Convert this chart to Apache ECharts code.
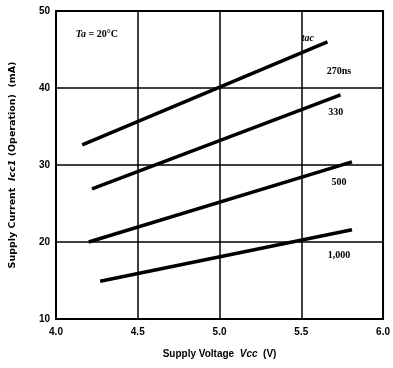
<!DOCTYPE html>
<html>
<head>
<meta charset="utf-8">
<script src="https://cdn.jsdelivr.net/npm/echarts@6/dist/echarts.min.js"></script>
<style>
  html, body { margin: 0; padding: 0; background: #fff; }
  #chart { width: 393px; height: 368px; }
</style>
</head>
<body>
<div id="chart"></div>
<script>
'use strict';

// access time curves, Icc vs Vcc
var seriesNames = ['270ns', '330', '500', '1,000'];
var curve270 = [[4.16, 32.6], [5.66, 46.0]];
var curve330 = [[4.22, 26.9], [5.74, 39.1]];
var curve500 = [[4.20, 20.0], [5.81, 30.4]];
var curve1000 = [[4.27, 14.9], [5.81, 21.6]];
var curves = [curve270, curve330, curve500, curve1000];

var xTicks = [4.0, 4.5, 5.0, 5.5, 6.0];
var yTicks = [10, 20, 30, 40, 50];

var myChart = echarts.init(document.getElementById('chart'));

var serif = '"Liberation Serif", "DejaVu Serif", serif';
var sans = '"Liberation Sans", "DejaVu Sans", sans-serif';
var wide = '"DejaVu Sans", sans-serif';

// text annotations on the plot, placed by data coords
var notes = [
    {coord: [4.25, 46.9], text: '{i|Ta} = 20°C'},
    {coord: [5.54, 46.5], text: '{i|tac}'},
    {coord: [5.73, 42.1], text: '270ns'},
    {coord: [5.71, 36.8], text: '330'},
    {coord: [5.73, 27.8], text: '500'},
    {coord: [5.73, 18.2], text: '1,000'}
];

var series = curves.map(function (c, i) {
    var s = {
        type: 'line',
        name: seriesNames[i],
        data: c,
        symbol: 'none',
        silent: true,
        lineStyle: {color: '#000', width: 3.5}
    };
    if (i === 0) {
        s.markPoint = {
            symbol: 'circle',
            symbolSize: 0,
            silent: true,
            label: {
                show: true,
                position: 'inside',
                color: '#000',
                fontFamily: serif,
                fontWeight: 'bold',
                fontSize: 10,
                rich: {
                    i: {fontStyle: 'italic', fontFamily: serif, fontWeight: 'bold', fontSize: 10}
                },
                formatter: function (p) { return p.data.text; }
            },
            data: notes.map(function (n) {
                return {coord: n.coord, text: n.text, value: 0};
            })
        };
    }
    return s;
});

var option = {
    animation: false,
    backgroundColor: '#fff',
    grid: {
        left: 54, right: 6, top: 11, bottom: 49,
        show: true,
        borderColor: '#000',
        borderWidth: 2
    },
    xAxis: {
        type: 'value',
        min: xTicks[0],
        max: xTicks[xTicks.length - 1],
        interval: 0.5,
        name: 'Supply Voltage  {i|Vcc}  (V)',
        nameLocation: 'middle',
        nameGap: 30,
        nameTextStyle: {
            color: '#000', fontFamily: sans, fontWeight: 'bold', fontSize: 10,
            rich: {i: {fontStyle: 'italic', fontFamily: sans, fontWeight: 'bold', fontSize: 10}}
        },
        axisLine: {lineStyle: {color: '#000', width: 2}},
        axisTick: {show: false},
        axisLabel: {
            color: '#000', fontFamily: sans, fontWeight: 'bold', fontSize: 10, margin: 8,
            formatter: function (v) { return v.toFixed(1); }
        },
        splitLine: {lineStyle: {color: '#000', width: 1.5}}
    },
    yAxis: {
        type: 'value',
        min: yTicks[0],
        max: yTicks[yTicks.length - 1],
        interval: 10,
        name: 'Supply Current  {i|Icc1} (Operation)  (mA)',
        nameLocation: 'middle',
        nameGap: 38,
        nameRotate: 90,
        nameTextStyle: {
            color: '#000', fontFamily: wide, fontWeight: 'bold', fontSize: 9.5,
            rich: {i: {fontStyle: 'italic', fontFamily: wide, fontWeight: 'bold', fontSize: 9.5}}
        },
        axisLine: {lineStyle: {color: '#000', width: 2}},
        axisTick: {show: false},
        axisLabel: {color: '#000', fontFamily: sans, fontWeight: 'bold', fontSize: 10, margin: 6},
        splitLine: {lineStyle: {color: '#000', width: 1.5}}
    },
    series: series
};

myChart.setOption(option);
</script>
</body>
</html>
